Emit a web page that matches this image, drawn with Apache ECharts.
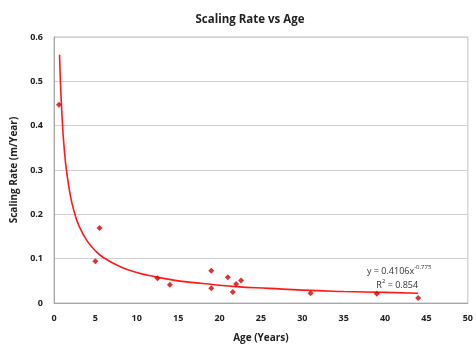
<!DOCTYPE html>
<html><head><meta charset="utf-8">
<script src="https://cdn.jsdelivr.net/npm/echarts@6/dist/echarts.min.js"></script>
<style>html,body{margin:0;padding:0;background:#fff}#c{width:476px;height:348px}</style>
</head><body><div id="c"></div>
<script>
// Measured points (Age in years, Scaling rate m/Year)
const ages  = [0.6, 5.0, 5.5, 12.5, 14.0, 19.0, 19.0, 21.0, 21.6, 22.0, 22.6, 31.0, 39.0, 44.0];
const rates = [0.447, 0.094, 0.169, 0.056, 0.041, 0.073, 0.033, 0.058, 0.025, 0.043, 0.051, 0.022, 0.021, 0.011];
// Power trendline
const trendX = [0.67, 0.8, 1, 1.2, 1.5, 2, 2.5, 3, 4, 5, 6, 8, 10, 12, 15, 18, 22, 26, 30, 35, 40, 44];
const trendY = [0.560, 0.488, 0.411, 0.356, 0.300, 0.240, 0.202, 0.175, 0.140, 0.118, 0.102, 0.082, 0.069, 0.060, 0.050, 0.044, 0.037, 0.033, 0.029, 0.026, 0.024, 0.022];
const xTicks = [0, 5, 10, 15, 20, 25, 30, 35, 40, 45, 50];
const yTicks = [0, 0.1, 0.2, 0.3, 0.4, 0.5, 0.6];

const font = '"Open Sans", "Liberation Sans", sans-serif';
const chart = echarts.init(document.getElementById('c'), null, {renderer: 'canvas'});
chart.setOption({
  animation: false,
  backgroundColor: '#fff',
  title: {
    text: 'Scaling Rate vs Age', left: 245, top: 9, textAlign: 'center',
    textStyle: {fontFamily: font, fontSize: 11.5, fontWeight: 'bold', color: '#222'}
  },
  grid: {left: 54, right: 6, top: 37, bottom: 42, show: true, borderColor: '#bfbfbf', borderWidth: 1},
  xAxis: {
    type: 'value', min: xTicks[0], max: xTicks[xTicks.length - 1], interval: 5,
    name: 'Age (Years)', nameLocation: 'middle', nameGap: 30,
    nameTextStyle: {fontFamily: font, fontSize: 10, fontWeight: 'bold', color: '#222'},
    axisLine: {lineStyle: {color: '#a6a6a6'}},
    axisTick: {show: false},
    splitLine: {show: false},
    axisLabel: {fontFamily: font, fontSize: 9, fontWeight: 'bold', color: '#222', margin: 11}
  },
  yAxis: {
    type: 'value', min: yTicks[0], max: yTicks[yTicks.length - 1], interval: 0.1,
    name: 'Scaling Rate (m/Year)', nameLocation: 'middle', nameGap: 22,
    nameTextStyle: {fontFamily: font, fontSize: 10, fontWeight: 'bold', color: '#222'},
    axisLine: {show: true, lineStyle: {color: '#a6a6a6'}},
    axisTick: {show: false},
    splitLine: {lineStyle: {color: '#d0d0d0'}},
    axisLabel: {fontFamily: font, fontSize: 9, fontWeight: 'bold', color: '#222', margin: 11,
      formatter: v => (Math.round(v * 10) / 10).toString()}
  },
  graphic: [{
    type: 'text', left: 367, top: 264, z: 100,
    style: {
      text: '{a|y = 0.4106x}{s|-0.775}\n{b|    R}{s2|2}{b| = 0.854}',
      rich: {
        a: {fontFamily: font, fontSize: 9, fill: '#333', lineHeight: 14},
        b: {fontFamily: font, fontSize: 9, fill: '#333', lineHeight: 14},
        s: {fontFamily: font, fontSize: 6, fill: '#333', verticalAlign: 'top', padding: [0, 0, 6, 0]},
        s2: {fontFamily: font, fontSize: 6, fill: '#333', verticalAlign: 'top', padding: [0, 0, 6, 0]}
      }
    }
  }],
  series: [
    {
      type: 'line', data: trendX.map((x, i) => [x, trendY[i]]), smooth: true,
      showSymbol: false, lineStyle: {color: '#ff1a1a', width: 1.6}, z: 2
    },
    {
      type: 'scatter', data: ages.map((x, i) => [x, rates[i]]),
      symbol: 'diamond', symbolSize: 6, itemStyle: {color: '#d40000'}, z: 3
    }
  ]
});
</script></body></html>
